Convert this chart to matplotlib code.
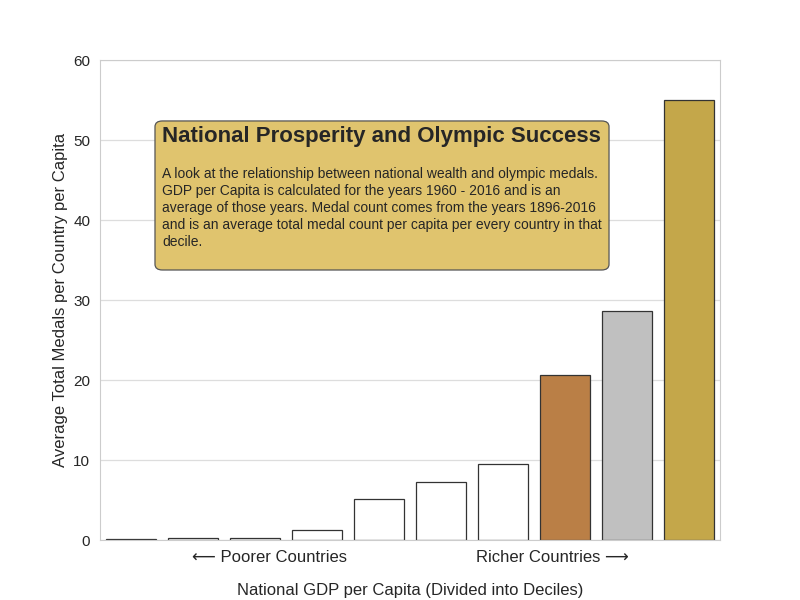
import matplotlib.pyplot as plt
import seaborn as sns
from matplotlib.patches import FancyBboxPatch

sns.set_style("whitegrid")
plt.rcParams['font.family'] = ['Liberation Sans', 'DejaVu Sans']

# average medals per capita, by GDP decile (poorest -> richest)
deciles = list(range(10))
medals = [0.1, 0.2, 0.2, 1.3, 5.1, 7.2, 9.5, 20.6, 28.6, 55.0]
bar_colors = ['white'] * 7 + ['#BA7F46', '#C0C0C0', '#C4A74A']

tick_pos = [2.24, 6.79]
tick_labels = ['\u27f5 Poorer Countries', 'Richer Countries \u27f6']

title = 'National Prosperity and Olympic Success'
blurb = ('A look at the relationship between national wealth and olympic medals.\n'
         'GDP per Capita is calculated for the years 1960 - 2016 and is an\n'
         'average of those years. Medal count comes from the years 1896-2016\n'
         'and is an average total medal count per capita per every country in that\n'
         'decile.')

fig, ax = plt.subplots(figsize=(8, 6), dpi=100)
fig.subplots_adjust(left=0.125, right=0.9, top=0.9, bottom=0.1)

ax.bar(deciles, medals, width=0.8, color=bar_colors, edgecolor='#333333', linewidth=0.9, zorder=2)
ax.set_xlim(-0.5, 9.5)
ax.set_ylim(0, 60)
ax.xaxis.grid(False)
ax.yaxis.grid(True, color='#dddddd', linewidth=0.9)
for s in ax.spines.values():
    s.set_color('#cccccc')

ax.set_xticks(tick_pos)
ax.set_xticklabels(tick_labels, fontsize=12, color='#262626')
ax.tick_params(axis='y', labelsize=11, colors='#262626')
ax.set_yticks([0, 10, 20, 30, 40, 50, 60])
ax.set_ylabel('Average Total Medals per Country per Capita', fontsize=12, color='#262626')
ax.set_xlabel('National GDP per Capita (Divided into Deciles)', fontsize=12, color='#262626', labelpad=13)

box = FancyBboxPatch((0.0887, 0.5625), 0.7323, 0.3105, boxstyle='round,pad=0,rounding_size=0.012',
                     transform=ax.transAxes, facecolor='#E0C46E', edgecolor='#555555', linewidth=0.9, zorder=3)
ax.add_patch(box)
ax.text(0.1, 0.862, title, transform=ax.transAxes, fontsize=16, fontweight='bold',
        color='#262626', va='top', ha='left', zorder=4)
ax.text(0.1, 0.778, blurb, transform=ax.transAxes, fontsize=10, color='#262626',
        va='top', ha='left', linespacing=1.28, zorder=4)

fig.savefig('out.png', dpi=100)
